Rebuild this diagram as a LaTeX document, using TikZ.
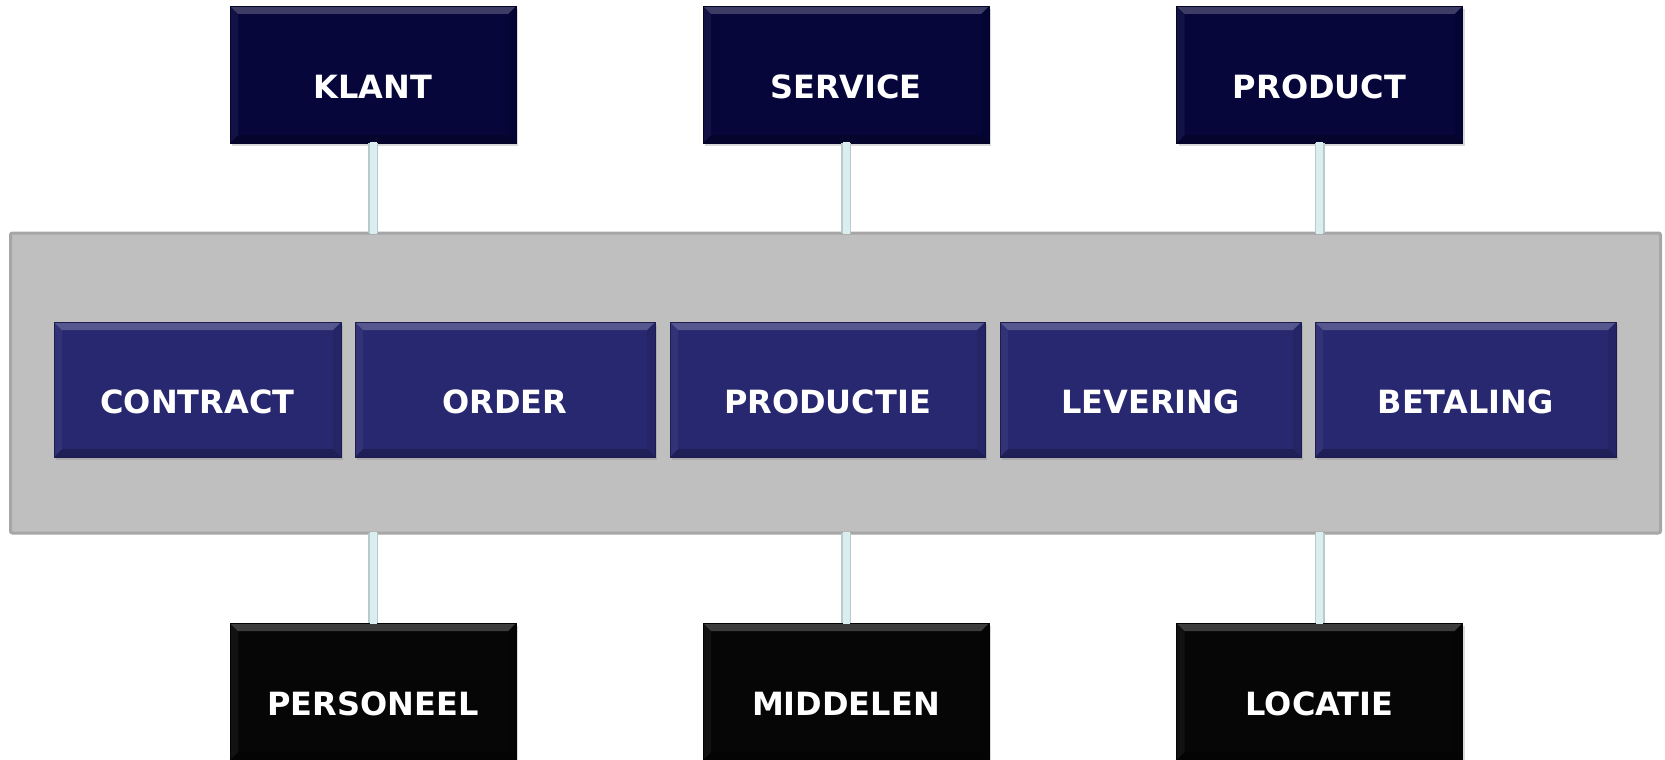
\documentclass[tikz,border=0pt]{standalone}
\usepackage{fontspec}
\setmainfont{DejaVu Sans}
\usetikzlibrary{shadows}
\definecolor{topblue}{HTML}{06063A}
\definecolor{midblue}{HTML}{282870}
\definecolor{botblack}{HTML}{060606}
\definecolor{bandgray}{HTML}{BFBFBF}
\definecolor{bandedge}{HTML}{A6A6A6}
\definecolor{linkcyan}{HTML}{DAEEF0}
\definecolor{linkedge}{HTML}{B9CACC}
\tikzset{
  bevel/.style={path picture={
    \fill[white,opacity=0.22] (path picture bounding box.north west) -- (path picture bounding box.north east)
      -- ([shift={(-8pt,-8pt)}]path picture bounding box.north east) -- ([shift={(8pt,-8pt)}]path picture bounding box.north west) -- cycle;
    \fill[black,opacity=0.22] (path picture bounding box.south west) -- (path picture bounding box.south east)
      -- ([shift={(-8pt,8pt)}]path picture bounding box.south east) -- ([shift={(8pt,8pt)}]path picture bounding box.south west) -- cycle;
    \fill[white,opacity=0.05] (path picture bounding box.north west) -- ([shift={(8pt,-8pt)}]path picture bounding box.north west)
      -- ([shift={(8pt,8pt)}]path picture bounding box.south west) -- (path picture bounding box.south west) -- cycle;
    \fill[black,opacity=0.08] (path picture bounding box.north east) -- ([shift={(-8pt,-8pt)}]path picture bounding box.north east)
      -- ([shift={(-8pt,8pt)}]path picture bounding box.south east) -- (path picture bounding box.south east) -- cycle;
  }},
  boxbase/.style={rectangle, inner sep=0pt, outer sep=0pt, draw=#1!70!black, line width=0.6pt, fill=#1, bevel,
    text=white, font=\fontsize{32}{38}\selectfont\bfseries, text height=47pt, text depth=0pt,
    drop shadow={shadow xshift=2pt, shadow yshift=-3pt, opacity=0.3}},
  topbox/.style={boxbase=topblue, minimum width=286pt, minimum height=137pt},
  botbox/.style={boxbase=botblack, minimum width=286pt, minimum height=137pt},
  midbox/.style={boxbase=midblue, minimum height=135pt},
  band/.style={rectangle, inner sep=0pt, outer sep=0pt, fill=bandgray, draw=bandedge, line width=3pt, rounded corners=2pt,
    minimum width=1650pt, minimum height=300pt},
  linkedge/.style={line width=10pt, draw=linkedge},
  linkfill/.style={line width=7pt, draw=linkcyan},
}
\begin{document}
\begin{tikzpicture}[x=1pt,y=-1pt]
\useasboundingbox (0,0) rectangle (1665,760);
\node[band] (band) at (835.5,383) {};
% top boxes
\node[topbox] (klant) at (373,74.5) {KLANT};
\node[topbox] (service) at (846,74.5) {SERVICE};
\node[topbox] (product) at (1319.5,74.5) {PRODUCT};
% bottom boxes
\node[botbox] (personeel) at (373,691.5) {PERSONEEL};
\node[botbox] (middelen) at (846,691.5) {MIDDELEN};
\node[botbox] (locatie) at (1319.5,691.5) {LOCATIE};
% middle boxes
\node[midbox, minimum width=287pt] (contract) at (197.5,389.5) {CONTRACT};
\node[midbox, minimum width=300pt] (order) at (505,389.5) {ORDER};
\node[midbox, minimum width=315pt] (productie) at (827.5,389.5) {PRODUCTIE};
\node[midbox, minimum width=301pt] (levering) at (1150.5,389.5) {LEVERING};
\node[midbox, minimum width=301pt] (betaling) at (1465.5,389.5) {BETALING};
% connectors
\foreach \n in {klant,service,product}{
  \draw[linkedge] (\n.south) -- (\n.south |- band.north);
  \draw[linkfill] ([yshift=1pt]\n.south) -- ([yshift=-1pt]\n.south |- band.north);
}
\foreach \n in {personeel,middelen,locatie}{
  \draw[linkedge] (\n.north) -- (\n.north |- band.south);
  \draw[linkfill] ([yshift=-1pt]\n.north) -- ([yshift=1pt]\n.north |- band.south);
}
\end{tikzpicture}
\end{document}
